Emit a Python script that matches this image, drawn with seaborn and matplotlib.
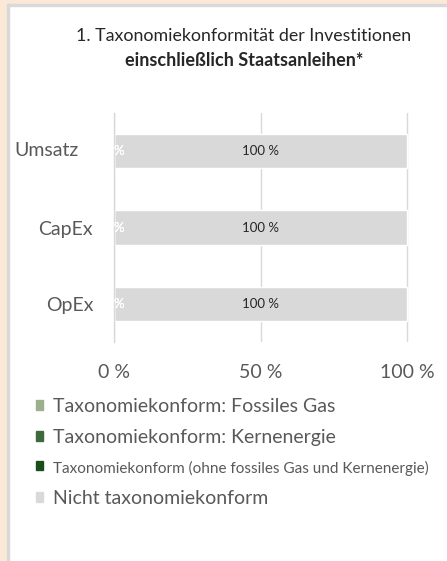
import numpy as np
import pandas as pd
import seaborn as sns
import matplotlib.pyplot as plt
from matplotlib.patches import Rectangle
from matplotlib.transforms import ScaledTranslation

# chart data
categories = ["Umsatz", "CapEx", "OpEx"]
series_names = [
    "Taxonomiekonform: Fossiles Gas",
    "Taxonomiekonform: Kernenergie",
    "Taxonomiekonform (ohne fossiles Gas und Kernenergie)",
    "Nicht taxonomiekonform",
]
fossil_gas = [0, 0, 0]
nuclear = [0, 0, 0]
aligned_other = [0, 0, 0]
not_aligned = [100, 100, 100]
x_ticks = [0, 50, 100]

colors = ["#9DB08E", "#3E6A3B", "#1B4D1B", "#D9D9D9"]
label_colors = ["white", "white", "white", "#262626"]

sns.set_theme(style="white")
plt.rcParams["font.family"] = ["Lato", "DejaVu Sans"]

df = pd.DataFrame({"Kategorie": categories,
                   series_names[0]: fossil_gas,
                   series_names[1]: nuclear,
                   series_names[2]: aligned_other,
                   series_names[3]: not_aligned})
cum = df[series_names].cumsum(axis=1)

fig = plt.figure(figsize=(4.47, 5.61), dpi=100)
fig.patch.set_facecolor("white")
# beige frame on left/top like the source page
fig.patches.append(Rectangle((0, 0), 7 / 447, 1, transform=fig.transFigure,
                             color="#FBE9D7", zorder=0))
fig.patches.append(Rectangle((0, 1 - 4 / 561), 1, 4 / 561, transform=fig.transFigure,
                             color="#FBE9D7", zorder=0))
fig.patches.append(Rectangle((7 / 447, 0), 1.5 / 447, 1 - 4 / 561, transform=fig.transFigure,
                             color="#D9D9D9", zorder=0))
fig.patches.append(Rectangle((7 / 447, 1 - 5.5 / 561), 1, 1.5 / 561, transform=fig.transFigure,
                             color="#D9D9D9", zorder=0))

ax = fig.add_axes([114 / 447, 1 - 342 / 561, (409 - 114) / 447, (342 - 113) / 561])

# stacked bars: draw cumulative totals from the back
for i in range(len(series_names) - 1, -1, -1):
    sns.barplot(x=cum[series_names[i]], y=df["Kategorie"], orient="h",
                color=colors[i], width=0.45, ax=ax, zorder=2, saturation=1)

# segment labels
for i, name in enumerate(series_names):
    left = cum[name] - df[name]
    for j, v in enumerate(df[name]):
        ax.text(left[j] + v / 2, j, f"{v:.0f} %", ha="center", va="center",
                fontsize=9.5, color=label_colors[i], zorder=3)

ax.set_xlim(0, 100.6)
ax.set_ylim(2.5, -0.5)
ax.set_xticks(x_ticks)
ax.set_xticklabels([f"{t} %" for t in x_ticks])
ax.xaxis.grid(True, color="#D9D9D9", linewidth=1, zorder=0)
ax.set_axisbelow(True)
ax.set_xlabel("")
ax.set_ylabel("")
for s in ["top", "right", "bottom"]:
    ax.spines[s].set_visible(False)
ax.spines["left"].set_color("#D9D9D9")
ax.spines["left"].set_linewidth(1)
ax.tick_params(axis="x", length=0, pad=16, labelsize=14, labelcolor="#595959")
ax.tick_params(axis="y", which="major", length=0, pad=15, labelsize=14, labelcolor="#595959")
ax.set_yticks([-0.5, 0.5, 1.5, 2.5], minor=True)
ax.tick_params(axis="y", which="minor", length=6, color="#D9D9D9", width=1)

# the first category label sits a little further left/up in the source
lbl = ax.get_yticklabels()[0]
lbl.set_transform(lbl.get_transform() + ScaledTranslation(-15 / 100, 2 / 100, fig.dpi_scale_trans))

fig.text(244 / 447, 1 - 36 / 561, "1. Taxonomiekonformität der Investitionen",
         ha="center", va="center", fontsize=12.8, color="#262626")
fig.text(244 / 447, 1 - 60 / 561, "einschließlich Staatsanleihen*",
         ha="center", va="center", fontsize=13, fontweight="bold", color="#262626")

handles = [Rectangle((0, 0), 1, 1, color=c) for c in colors]
leg = fig.legend(handles, series_names, loc="upper left",
                 bbox_to_anchor=(28 / 447, 1 - 390 / 561), frameon=False,
                 fontsize=14, handlelength=0.38, handleheight=0.38,
                 handletextpad=0.5, labelspacing=0.74, borderaxespad=0)
for t in leg.get_texts():
    t.set_color("#595959")
leg.get_texts()[2].set_fontsize(11)

fig.savefig("out.png", dpi=100)
